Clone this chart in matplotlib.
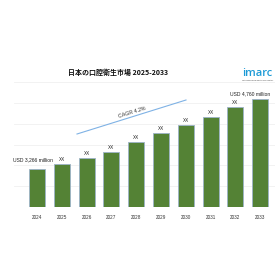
import matplotlib.pyplot as plt
import numpy as np

years = ['2024', '2025', '2026', '2027', '2028', '2029', '2030', '2031', '2032', '2033']
values = [3266, 3370, 3500, 3630, 3840, 4030, 4200, 4370, 4580, 4760]
bar_labels = ['', 'XX', 'XX', 'XX', 'XX', 'XX', 'XX', 'XX', 'XX', '']
title = '日本の口腔衛生市場 2025-2033'
cagr_text = 'CAGR 4.2%'
first_label = 'USD 3,266 million'
last_label = 'USD 4,760 million'

plt.rcParams['font.family'] = ['Liberation Sans', 'DejaVu Sans']

fig = plt.figure(figsize=(2.8, 2.8), dpi=100)
ax = fig.add_axes([14 / 280, 73 / 280, 261 / 280, 125 / 280])

x = np.arange(len(years))
ax.bar(x, values, width=0.65, color='#548235', edgecolor='#9db3c9', linewidth=0.6, zorder=3)

ax.set_xlim(-0.93, 9.6)
ax.set_ylim(2450, 5120)
ax.set_yticks(np.linspace(2450, 5120, 7))
ax.grid(axis='y', color='#f0f0f0', linewidth=0.6, zorder=0)
ax.tick_params(left=False, labelleft=False, bottom=False, pad=2)
ax.set_xticks(x)
ax.set_xticklabels(years, fontsize=3.3, color='#333333')
for s in ax.spines.values():
    s.set_visible(False)

for xi, v, lab in zip(x, values, bar_labels):
    if lab:
        ax.annotate(lab, (xi, v), xytext=(0, 1.5), textcoords='offset points',
                    ha='center', va='bottom', fontsize=3.3, color='#222222')

ax.annotate(first_label, (x[0], values[0]), xytext=(-3, 4.5), textcoords='offset points',
            ha='center', va='bottom', fontsize=3.6, color='#222222')
ax.annotate(last_label, (x[-1], values[-1]), xytext=(-7, 2), textcoords='offset points',
            ha='center', va='bottom', fontsize=3.6, color='#222222')

# CAGR arrow
fig.add_artist(plt.Line2D([77 / 280, 186 / 280], [1 - 134 / 280, 1 - 100 / 280],
                          color='#7fb2e5', linewidth=0.8))
fig.text(132 / 280, 1 - 112 / 280, cagr_text, rotation=17, ha='center', va='center',
         fontsize=3.8, color='#333333')

# title and logo
fig.text(118 / 280, 1 - 72 / 280, title, ha='center', va='center', fontsize=5,
         fontweight='bold', family=['Noto Sans CJK JP', 'DejaVu Sans'], color='#111111')
fig.text(257.5 / 280, 1 - 73 / 280, 'imarc', ha='center', va='center', fontsize=8,
         color='#1c9ad6', family='Open Sans', fontweight='semibold')
fig.text(257.5 / 280, 1 - 80.5 / 280, 'TRANSFORMING IDEAS INTO IMPACT', ha='center', va='center',
         fontsize=1.3, color='#333333')

fig.savefig('out.png', dpi=100, facecolor='white')
